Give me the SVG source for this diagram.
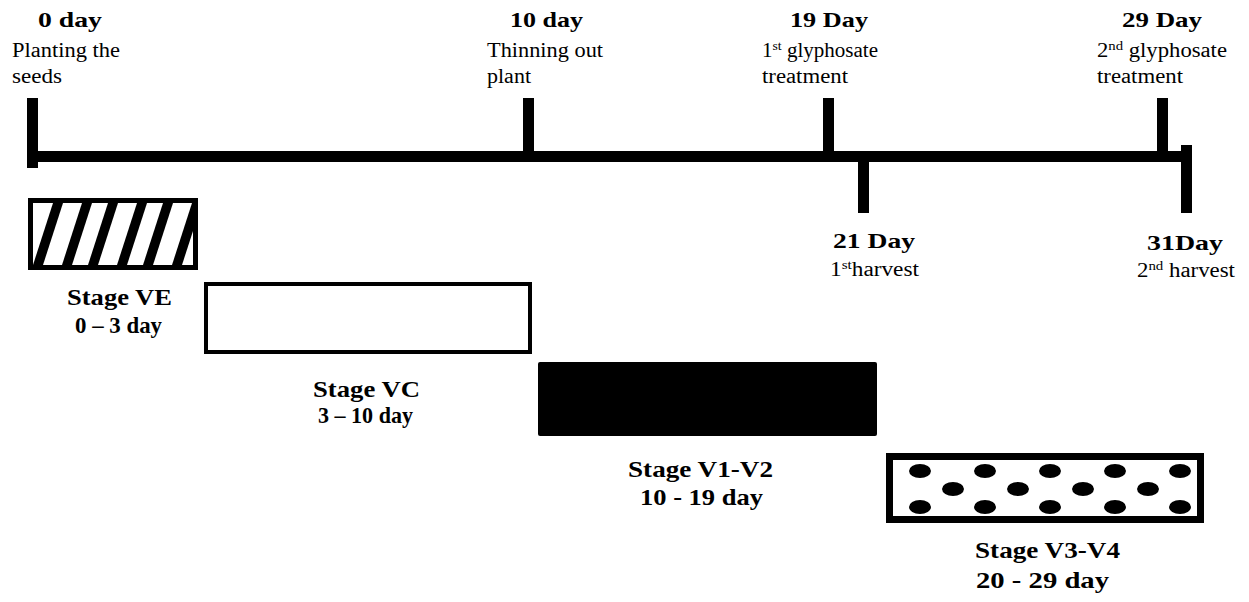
<svg xmlns="http://www.w3.org/2000/svg" width="1249" height="602" viewBox="0 0 1249 602">
<style>
text{font-family:"Liberation Serif","Times New Roman",serif;fill:#000}
.h{font-weight:bold;font-size:22px}
.r{font-size:20px}
.s{font-weight:bold;font-size:23px}
.sup{font-size:13px}
</style>
<defs>
<clipPath id="veclip"><rect x="33" y="203" width="160" height="62"/></clipPath>
</defs>
<rect width="1249" height="602" fill="#fff"/>
<g id="connectors">
<rect x="27" y="151" width="1165" height="11" fill="#000"/>
<rect x="27" y="98" width="11" height="70" fill="#000"/>
<rect x="523" y="98" width="11" height="55" fill="#000"/>
<rect x="823" y="98" width="11" height="55" fill="#000"/>
<rect x="1157" y="98" width="11" height="55" fill="#000"/>
<rect x="858" y="158" width="11" height="55" fill="#000"/>
<rect x="1181" y="145" width="11" height="68" fill="#000"/>
</g>
<g id="m0">
<text class="h" x="38" y="27" textLength="64" lengthAdjust="spacingAndGlyphs">0 day</text>
<text class="r" x="12" y="57" textLength="108" lengthAdjust="spacingAndGlyphs">Planting the</text>
<text class="r" x="12" y="83" textLength="50" lengthAdjust="spacingAndGlyphs">seeds</text>
</g>
<g id="m10">
<text class="h" x="510" y="27" textLength="73" lengthAdjust="spacingAndGlyphs">10 day</text>
<text class="r" x="487" y="57" textLength="116" lengthAdjust="spacingAndGlyphs">Thinning out</text>
<text class="r" x="487" y="83" textLength="44" lengthAdjust="spacingAndGlyphs">plant</text>
</g>
<g id="m19">
<text class="h" x="790" y="27" textLength="78" lengthAdjust="spacingAndGlyphs">19 Day</text>
<text class="r" x="762" y="57" textLength="116" lengthAdjust="spacingAndGlyphs">1<tspan class="sup" dy="-7">st</tspan><tspan dy="7"> glyphosate</tspan></text>
<text class="r" x="762" y="83" textLength="86" lengthAdjust="spacingAndGlyphs">treatment</text>
</g>
<g id="m29">
<text class="h" x="1122" y="27" textLength="80" lengthAdjust="spacingAndGlyphs">29 Day</text>
<text class="r" x="1097" y="57" textLength="130" lengthAdjust="spacingAndGlyphs">2<tspan class="sup" dy="-7">nd</tspan><tspan dy="7"> glyphosate</tspan></text>
<text class="r" x="1097" y="83" textLength="86" lengthAdjust="spacingAndGlyphs">treatment</text>
</g>
<g id="m21">
<text class="h" x="833" y="248" textLength="82" lengthAdjust="spacingAndGlyphs">21 Day</text>
<text class="r" x="830" y="276" textLength="89" lengthAdjust="spacingAndGlyphs">1<tspan class="sup" dy="-7">st</tspan><tspan dy="7">harvest</tspan></text>
</g>
<g id="m31">
<text class="h" x="1147" y="250" textLength="76" lengthAdjust="spacingAndGlyphs">31Day</text>
<text class="r" x="1137" y="277" textLength="98" lengthAdjust="spacingAndGlyphs">2<tspan class="sup" dy="-7">nd</tspan><tspan dy="7"> harvest</tspan></text>
</g>
<g id="stageVE">
<rect x="30.5" y="200.5" width="165" height="67" fill="#fff" stroke="#000" stroke-width="5"/>
<g clip-path="url(#veclip)" fill="#000">
<polygon points="33,265 43,265 63,203 53,203"/>
<polygon points="62,265 72,265 92,203 82,203"/>
<polygon points="88,265 98,265 118,203 108,203"/>
<polygon points="117,265 127,265 147,203 137,203"/>
<polygon points="143,265 153,265 173,203 163,203"/>
<polygon points="172,265 182,265 202,203 192,203"/>
</g>
<text class="s" x="67" y="305" textLength="105" lengthAdjust="spacingAndGlyphs">Stage VE</text>
<text class="s" x="75" y="333" textLength="87" lengthAdjust="spacingAndGlyphs">0 – 3 day</text>
</g>
<g id="stageVC">
<rect x="206" y="284" width="324" height="68" fill="#fff" stroke="#000" stroke-width="4"/>
<text class="s" x="313" y="397" textLength="107" lengthAdjust="spacingAndGlyphs">Stage VC</text>
<text class="s" x="318" y="423" textLength="95" lengthAdjust="spacingAndGlyphs">3 – 10 day</text>
</g>
<g id="stageV1V2">
<rect x="538" y="362" width="339" height="74" rx="2" fill="#000"/>
<text class="s" x="628" y="477" textLength="145" lengthAdjust="spacingAndGlyphs">Stage V1-V2</text>
<text class="s" x="640" y="505" textLength="123" lengthAdjust="spacingAndGlyphs">10 - 19 day</text>
</g>
<g id="stageV3V4">
<rect x="889.5" y="456.5" width="311" height="63" fill="#fff" stroke="#000" stroke-width="7"/>
<g fill="#000">
<ellipse cx="920" cy="471" rx="11" ry="7"/>
<ellipse cx="985" cy="471" rx="11" ry="7"/>
<ellipse cx="1050" cy="471" rx="11" ry="7"/>
<ellipse cx="1115" cy="471" rx="11" ry="7"/>
<ellipse cx="1180" cy="471" rx="11" ry="7"/>
<ellipse cx="953" cy="489" rx="11" ry="7"/>
<ellipse cx="1018" cy="489" rx="11" ry="7"/>
<ellipse cx="1083" cy="489" rx="11" ry="7"/>
<ellipse cx="1148" cy="489" rx="11" ry="7"/>
<ellipse cx="920" cy="507" rx="11" ry="7"/>
<ellipse cx="985" cy="507" rx="11" ry="7"/>
<ellipse cx="1050" cy="507" rx="11" ry="7"/>
<ellipse cx="1115" cy="507" rx="11" ry="7"/>
<ellipse cx="1180" cy="507" rx="11" ry="7"/>
</g>
<text class="s" x="975" y="558" textLength="145" lengthAdjust="spacingAndGlyphs">Stage V3-V4</text>
<text class="s" x="976" y="588" textLength="133" lengthAdjust="spacingAndGlyphs">20 - 29 day</text>
</g>
</svg>
